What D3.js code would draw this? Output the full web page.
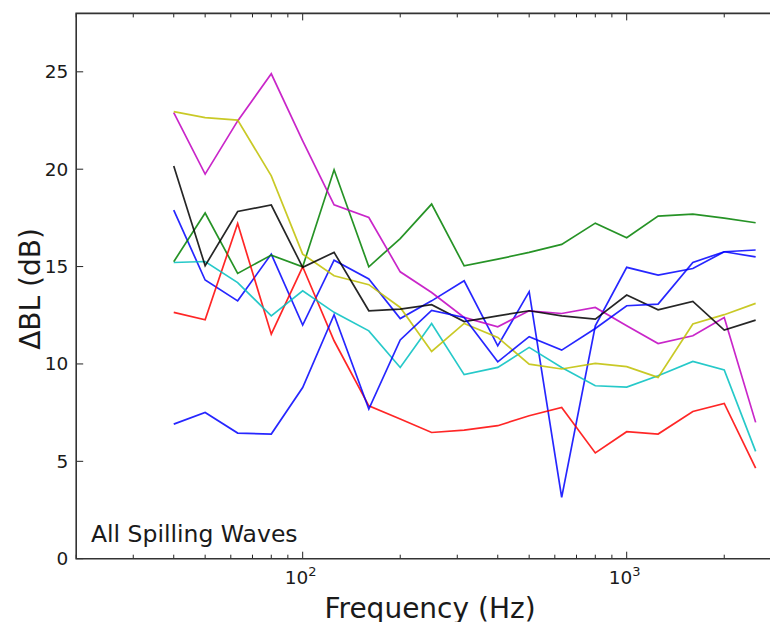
<!DOCTYPE html>
<html><head><meta charset="utf-8">
<script src="https://cdn.jsdelivr.net/npm/d3@7"></script>
<style>
html,body{margin:0;padding:0;background:#fff;}
text{font-family:"DejaVu Sans",sans-serif;fill:#1a1a1a;}
</style></head>
<body>
<svg id="chart" width="770" height="622"></svg>
<script>
const freqs = [40,50,63,80,100,125,160,200,250,315,400,500,630,800,1000,1250,1600,2000,2500];
const blueA   = [17.9,14.31,13.24,15.64,12.0,15.33,14.36,12.33,13.24,14.27,10.93,13.71,3.15,11.96,14.96,14.56,14.9,15.76,15.5];
const green   = [15.25,17.75,14.65,15.59,14.99,19.97,14.99,16.44,18.21,15.04,15.38,15.73,16.14,17.23,16.48,17.59,17.69,17.49,17.25];
const red     = [12.65,12.27,17.21,11.53,14.99,11.19,7.85,7.17,6.48,6.6,6.83,7.34,7.77,5.43,6.52,6.4,7.56,7.97,4.65];
const cyan    = [15.21,15.26,14.18,12.47,13.76,12.65,11.7,9.82,12.08,9.45,9.82,10.85,9.82,8.88,8.81,9.39,10.13,9.69,5.51];
const magenta = [22.9,19.75,22.48,24.9,21.45,18.17,17.52,14.73,13.67,12.39,11.91,12.73,12.59,12.9,11.96,11.05,11.45,12.39,7.0];
const yellow  = [22.96,22.65,22.52,19.66,15.64,14.53,14.07,12.9,10.64,12.08,11.36,9.99,9.74,10.03,9.86,9.31,12.05,12.53,13.11];
const black   = [20.17,15.04,17.83,18.16,14.96,15.73,12.73,12.82,13.04,12.18,12.47,12.73,12.47,12.3,13.54,12.78,13.21,11.74,12.25];
const blueB   = [6.91,7.51,6.45,6.4,8.79,12.53,7.68,11.23,12.75,12.39,10.11,11.4,10.71,11.82,12.99,13.07,15.21,15.76,15.85];
const seriesList = [
  {name:"b1", values: blueA,   color:"#0000ff"},
  {name:"g",  values: green,   color:"#008000"},
  {name:"r",  values: red,     color:"#ff0000"},
  {name:"c",  values: cyan,    color:"#00bfbf"},
  {name:"m",  values: magenta, color:"#bf00bf"},
  {name:"y",  values: yellow,  color:"#bfbf00"},
  {name:"k",  values: black,   color:"#000000"},
  {name:"b2", values: blueB,   color:"#0000ff"}
];
const yTicks = [0,5,10,15,20,25];
const xMajor = [100,1000];
const xMinor = [20,30,40,50,60,70,80,90,200,300,400,500,600,700,800,900,2000];
const annotation = "All Spilling Waves";
const xTitle = "Frequency (Hz)";
const yTitle = "\u0394BL (dB)";

(function(){
const svg = d3.select("#chart");
const x = d3.scaleLog().domain([20,3000]).range([76.2, 781.3]);
const y = d3.scaleLinear().domain([0,28]).range([558.7, 13.4]);
const pL = x(20), pR = 772, pT = y(28), pB = y(0);

const g = svg.append("g");
const line = d3.line().x((d,i)=>x(freqs[i])).y(d=>y(d));
g.selectAll("path.series").data(seriesList).enter().append("path")
  .attr("class","series")
  .attr("d", d=>line(d.values))
  .attr("fill","none").attr("stroke", d=>d.color)
  .attr("stroke-width",1.7).attr("stroke-linejoin","miter").attr("stroke-opacity",0.85);

const tk = svg.append("g").attr("stroke","#222").attr("stroke-width",1);
yTicks.forEach(v=>{
  tk.append("line").attr("x1",pL).attr("x2",pL+7).attr("y1",y(v)).attr("y2",y(v));
});
xMajor.forEach(v=>{
  tk.append("line").attr("x1",x(v)).attr("x2",x(v)).attr("y1",pB).attr("y2",pB-7);
  tk.append("line").attr("x1",x(v)).attr("x2",x(v)).attr("y1",pT).attr("y2",pT+7);
});
xMinor.forEach(v=>{
  tk.append("line").attr("x1",x(v)).attr("x2",x(v)).attr("y1",pB).attr("y2",pB-4);
  tk.append("line").attr("x1",x(v)).attr("x2",x(v)).attr("y1",pT).attr("y2",pT+4);
});

const sp = svg.append("g").attr("stroke","#333").attr("stroke-width",1.6).attr("fill","none");
sp.append("path").attr("d",`M${pR},${pT}H${pL}V${pB}H${pR}`);

yTicks.forEach(v=>{
  svg.append("text").attr("x",pL-8).attr("y",y(v)+6.5).attr("text-anchor","end")
    .attr("font-size",18.5).text(v);
});
xMajor.forEach(v=>{
  const t = svg.append("text").attr("x",x(v)-2).attr("y",pB+25).attr("text-anchor","middle").attr("font-size",18.5);
  t.append("tspan").text("10");
  t.append("tspan").attr("dy",-8).attr("font-size",13).text(Math.round(Math.log10(v)));
});

svg.append("text").attr("x",91).attr("y",542).attr("font-size",23.5).text(annotation);
svg.append("text").attr("x",430).attr("y",618).attr("text-anchor","middle").attr("font-size",28).text(xTitle);
svg.append("text").attr("transform","translate(40,289) rotate(-90)").attr("text-anchor","middle").attr("font-size",28).text(yTitle);
})();
</script>
</body></html>
